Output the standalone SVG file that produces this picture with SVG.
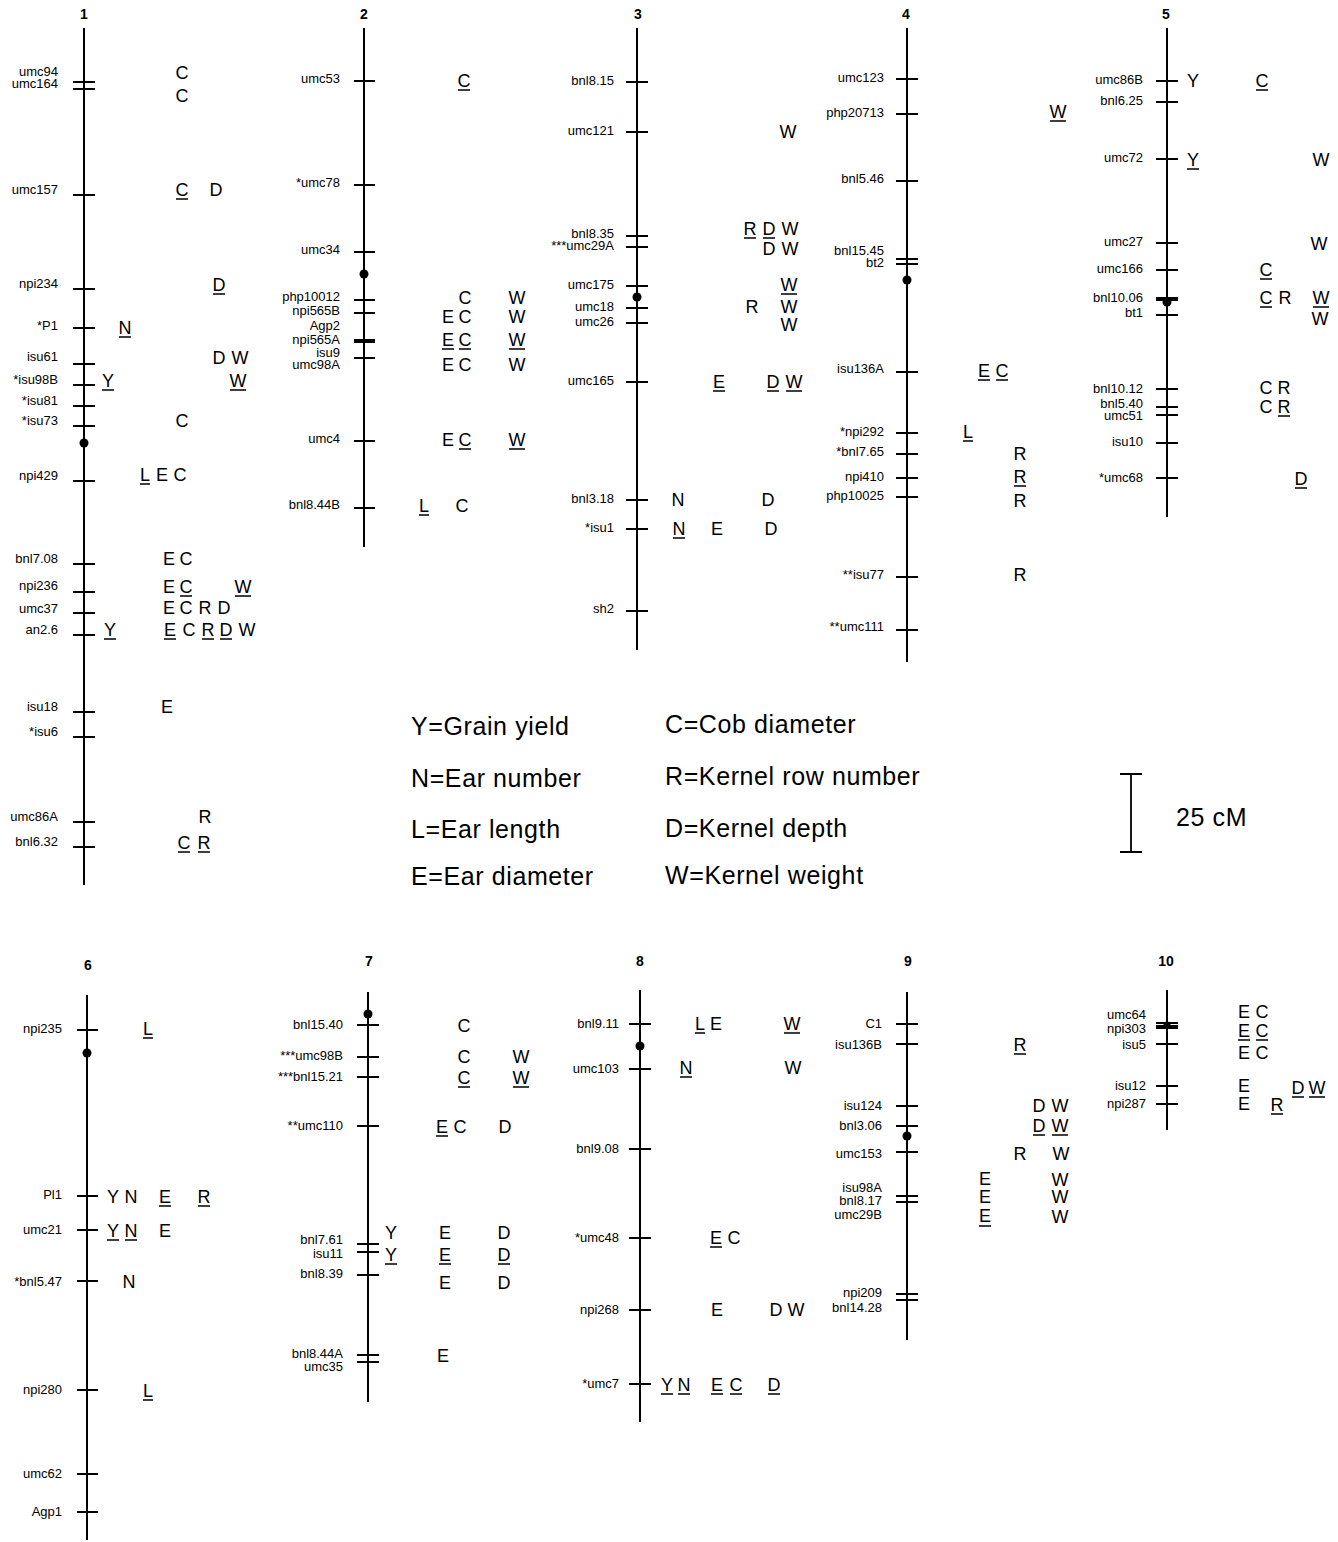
<svg xmlns="http://www.w3.org/2000/svg" width="1338" height="1542" viewBox="0 0 1338 1542">
<style>
.bg{fill:#fff}
.chr{stroke:#000;stroke-width:2;fill:none}
.tk{stroke:#000;stroke-width:1.8;fill:none}
.thk{stroke:#000;stroke-width:4;fill:none}
.ul{stroke:#000;stroke-width:1.3;fill:none}
.dot{fill:#000}
.lb text{font-family:"Liberation Sans",Arial,sans-serif;font-size:13px;text-anchor:end;fill:#000}
.t text{font-family:"Liberation Sans",Arial,sans-serif;font-size:18px;text-anchor:middle;fill:#000}
.ttl{font-family:"Liberation Sans",Arial,sans-serif;font-size:14px;font-weight:bold;text-anchor:middle}
.lg{font-family:"Liberation Sans",Arial,sans-serif;font-size:25px;letter-spacing:0.6px;fill:#000}
</style>
<rect class="bg" x="0" y="0" width="1338" height="1542"/>

<g id="chr1">
<text class="ttl" x="84" y="19">1</text>
<path class="chr" d="M84 28V885"/>
<path class="tk" d="M73 82h22M73 89h22M73 195h22M73 289h22M73 328h22M73 364h22M73 385h22M73 406h22M73 426h22M73 481h22M73 564h22M73 592h22M73 613h22M73 635h22M73 712h22M73 737h22M73 822h22M73 847h22"/>
<circle class="dot" cx="84" cy="443" r="4.5"/>
<g class="lb">
<text x="58" y="76">umc94</text><text x="58" y="88">umc164</text><text x="58" y="194">umc157</text><text x="58" y="288">npi234</text><text x="58" y="330">*P1</text><text x="58" y="361">isu61</text><text x="58" y="384">*isu98B</text><text x="58" y="405">*isu81</text><text x="58" y="425">*isu73</text><text x="58" y="480">npi429</text><text x="58" y="563">bnl7.08</text><text x="58" y="590">npi236</text><text x="58" y="613">umc37</text><text x="58" y="634">an2.6</text><text x="58" y="711">isu18</text><text x="58" y="736">*isu6</text><text x="58" y="821">umc86A</text><text x="58" y="846">bnl6.32</text>
</g>
<g class="t">
<text x="182" y="79">C</text><text x="182" y="102">C</text>
<text x="182" y="196">C</text><text x="216" y="196">D</text>
<text x="219" y="291">D</text>
<text x="125" y="334">N</text>
<text x="219" y="364">D</text><text x="240" y="364">W</text>
<text x="108" y="387">Y</text><text x="238" y="387">W</text>
<text x="182" y="427">C</text>
<text x="145" y="481">L</text><text x="162" y="481">E</text><text x="180" y="481">C</text>
<text x="169" y="565">E</text><text x="186" y="565">C</text>
<text x="169" y="593">E</text><text x="186" y="593">C</text><text x="243" y="593">W</text>
<text x="169" y="614">E</text><text x="186" y="614">C</text><text x="205" y="614">R</text><text x="224" y="614">D</text>
<text x="110" y="636">Y</text><text x="170" y="636">E</text><text x="189" y="636">C</text><text x="208" y="636">R</text><text x="226" y="636">D</text><text x="247" y="636">W</text>
<text x="167" y="713">E</text>
<text x="205" y="823">R</text>
<text x="184" y="849">C</text><text x="204" y="849">R</text>
</g>
<path class="ul" d="M176 199h12M213 294h12M119 337h12M102 390h12M230 390h16M140 484h10M180 596h12M235 596h16M104 639h12M164 639h12M202 639h12M220 639h12M178 852h12M198 852h12"/>
</g>

<g id="chr2">
<text class="ttl" x="364" y="19">2</text>
<path class="chr" d="M364 28V547"/>
<path class="tk" d="M354 81h21M354 185h21M354 252h21M354 300h21M354 313h21M354 358h21M354 441h21M354 508h21"/>
<path class="thk" d="M354 341h21"/>
<circle class="dot" cx="364" cy="274" r="4.5"/>
<g class="lb">
<text x="340" y="83">umc53</text><text x="340" y="187">*umc78</text><text x="340" y="254">umc34</text><text x="340" y="301">php10012</text><text x="340" y="315">npi565B</text><text x="340" y="330">Agp2</text><text x="340" y="344">npi565A</text><text x="340" y="357">isu9</text><text x="340" y="369">umc98A</text><text x="340" y="443">umc4</text><text x="340" y="509">bnl8.44B</text>
</g>
<g class="t">
<text x="464" y="87">C</text>
<text x="465" y="304">C</text><text x="517" y="304">W</text>
<text x="448" y="323">E</text><text x="465" y="323">C</text><text x="517" y="323">W</text>
<text x="448" y="346">E</text><text x="465" y="346">C</text><text x="517" y="346">W</text>
<text x="448" y="371">E</text><text x="465" y="371">C</text><text x="517" y="371">W</text>
<text x="448" y="446">E</text><text x="465" y="446">C</text><text x="517" y="446">W</text>
<text x="424" y="512">L</text><text x="462" y="512">C</text>
</g>
<path class="ul" d="M458 90h12M442 349h12M459 349h12M509 349h16M459 449h12M509 449h16M419 515h10"/>
</g>

<g id="chr3">
<text class="ttl" x="638" y="19">3</text>
<path class="chr" d="M637 28V650"/>
<path class="tk" d="M626 82h22M626 132h22M626 236h22M626 247h22M626 286h22M626 308h22M626 323h22M626 382h22M626 500h22M626 529h22M626 611h22"/>
<circle class="dot" cx="637" cy="297" r="4.5"/>
<g class="lb">
<text x="614" y="85">bnl8.15</text><text x="614" y="135">umc121</text><text x="614" y="238">bnl8.35</text><text x="614" y="250">***umc29A</text><text x="614" y="289">umc175</text><text x="614" y="311">umc18</text><text x="614" y="326">umc26</text><text x="614" y="385">umc165</text><text x="614" y="503">bnl3.18</text><text x="614" y="532">*isu1</text><text x="614" y="613">sh2</text>
</g>
<g class="t">
<text x="788" y="138">W</text>
<text x="750" y="235">R</text><text x="769" y="235">D</text><text x="790" y="235">W</text>
<text x="769" y="255">D</text><text x="790" y="255">W</text>
<text x="789" y="291">W</text>
<text x="752" y="313">R</text><text x="789" y="313">W</text>
<text x="789" y="331">W</text>
<text x="719" y="388">E</text><text x="773" y="388">D</text><text x="794" y="388">W</text>
<text x="678" y="506">N</text><text x="768" y="506">D</text>
<text x="679" y="535">N</text><text x="717" y="535">E</text><text x="771" y="535">D</text>
</g>
<path class="ul" d="M744 238h12M763 238h12M781 294h16M713 391h12M767 391h12M786 391h16M673 538h12"/>
</g>

<g id="chr4">
<text class="ttl" x="906" y="19">4</text>
<path class="chr" d="M907 28V662"/>
<path class="tk" d="M896 79h22M896 114h22M896 181h22M896 259h22M896 264h22M896 372h22M896 433h22M896 454h22M896 478h22M896 497h22M896 577h22M896 630h22"/>
<circle class="dot" cx="907" cy="280" r="4.5"/>
<g class="lb">
<text x="884" y="82">umc123</text><text x="884" y="117">php20713</text><text x="884" y="183">bnl5.46</text><text x="884" y="255">bnl15.45</text><text x="884" y="267">bt2</text><text x="884" y="373">isu136A</text><text x="884" y="436">*npi292</text><text x="884" y="456">*bnl7.65</text><text x="884" y="481">npi410</text><text x="884" y="500">php10025</text><text x="884" y="579">**isu77</text><text x="884" y="631">**umc111</text>
</g>
<g class="t">
<text x="1058" y="118">W</text>
<text x="984" y="377">E</text><text x="1002" y="377">C</text>
<text x="968" y="438">L</text>
<text x="1020" y="460">R</text>
<text x="1020" y="483">R</text>
<text x="1020" y="507">R</text>
<text x="1020" y="581">R</text>
</g>
<path class="ul" d="M1050 121h16M978 380h12M996 380h12M963 441h10M1014 486h12"/>
</g>

<g id="chr5">
<text class="ttl" x="1166" y="19">5</text>
<path class="chr" d="M1167 28V517"/>
<path class="tk" d="M1156 81h22M1156 102h22M1156 159h22M1156 243h22M1156 270h22M1156 315h22M1156 389h22M1156 407h22M1156 415h22M1156 443h22M1156 478h22"/>
<path class="thk" d="M1156 299h22"/>
<circle class="dot" cx="1167" cy="302" r="4.5"/>
<g class="lb">
<text x="1143" y="84">umc86B</text><text x="1143" y="105">bnl6.25</text><text x="1143" y="162">umc72</text><text x="1143" y="246">umc27</text><text x="1143" y="273">umc166</text><text x="1143" y="302">bnl10.06</text><text x="1143" y="317">bt1</text><text x="1143" y="393">bnl10.12</text><text x="1143" y="408">bnl5.40</text><text x="1143" y="420">umc51</text><text x="1143" y="446">isu10</text><text x="1143" y="482">*umc68</text>
</g>
<g class="t">
<text x="1193" y="87">Y</text><text x="1262" y="87">C</text>
<text x="1193" y="166">Y</text><text x="1321" y="166">W</text>
<text x="1319" y="250">W</text>
<text x="1266" y="276">C</text>
<text x="1266" y="304">C</text><text x="1285" y="304">R</text><text x="1321" y="304">W</text>
<text x="1320" y="325">W</text>
<text x="1266" y="394">C</text><text x="1284" y="394">R</text>
<text x="1266" y="413">C</text><text x="1284" y="413">R</text>
<text x="1301" y="485">D</text>
</g>
<path class="ul" d="M1256 90h12M1187 169h12M1260 279h12M1260 307h12M1313 307h16M1278 416h12M1295 488h12"/>
</g>

<g id="legend">
<text class="lg" x="411" y="735">Y=Grain yield</text>
<text class="lg" x="411" y="787">N=Ear number</text>
<text class="lg" x="411" y="838">L=Ear length</text>
<text class="lg" x="411" y="885">E=Ear diameter</text>
<text class="lg" x="665" y="733">C=Cob diameter</text>
<text class="lg" x="665" y="785">R=Kernel row number</text>
<text class="lg" x="665" y="837">D=Kernel depth</text>
<text class="lg" x="665" y="884">W=Kernel weight</text>
</g>
<g id="scale">
<path class="tk" d="M1131 774V852M1120 774h22M1120 852h22"/>
<text class="lg" x="1176" y="826">25 cM</text>
</g>

<g id="chr6">
<text class="ttl" x="88" y="970">6</text>
<path class="chr" d="M87 995V1540"/>
<path class="tk" d="M77 1030h21M77 1196h21M77 1230h21M77 1281h21M77 1390h21M77 1474h21M77 1512h21"/>
<circle class="dot" cx="87" cy="1053" r="4.5"/>
<g class="lb">
<text x="62" y="1033">npi235</text><text x="62" y="1199">Pl1</text><text x="62" y="1234">umc21</text><text x="62" y="1286">*bnl5.47</text><text x="62" y="1394">npi280</text><text x="62" y="1478">umc62</text><text x="62" y="1516">Agp1</text>
</g>
<g class="t">
<text x="148" y="1035">L</text>
<text x="113" y="1203">Y</text><text x="131" y="1203">N</text><text x="165" y="1203">E</text><text x="204" y="1203">R</text>
<text x="113" y="1237">Y</text><text x="131" y="1237">N</text><text x="165" y="1237">E</text>
<text x="129" y="1288">N</text>
<text x="148" y="1397">L</text>
</g>
<path class="ul" d="M143 1038h10M159 1206h12M198 1206h12M107 1240h12M125 1240h12M143 1400h10"/>
</g>

<g id="chr7">
<text class="ttl" x="369" y="966">7</text>
<path class="chr" d="M368 992V1402"/>
<path class="tk" d="M357 1025h22M357 1057h22M357 1077h22M357 1126h22M357 1244h22M357 1252h22M357 1275h22M357 1355h22M357 1362h22"/>
<circle class="dot" cx="368" cy="1014" r="4.5"/>
<g class="lb">
<text x="343" y="1029">bnl15.40</text><text x="343" y="1060">***umc98B</text><text x="343" y="1081">***bnl15.21</text><text x="343" y="1130">**umc110</text><text x="343" y="1244">bnl7.61</text><text x="343" y="1258">isu11</text><text x="343" y="1278">bnl8.39</text><text x="343" y="1358">bnl8.44A</text><text x="343" y="1371">umc35</text>
</g>
<g class="t">
<text x="464" y="1032">C</text>
<text x="464" y="1063">C</text><text x="521" y="1063">W</text>
<text x="464" y="1084">C</text><text x="521" y="1084">W</text>
<text x="442" y="1133">E</text><text x="460" y="1133">C</text><text x="505" y="1133">D</text>
<text x="391" y="1239">Y</text><text x="445" y="1239">E</text><text x="504" y="1239">D</text>
<text x="391" y="1261">Y</text><text x="445" y="1261">E</text><text x="504" y="1261">D</text>
<text x="445" y="1289">E</text><text x="504" y="1289">D</text>
<text x="443" y="1362">E</text>
</g>
<path class="ul" d="M458 1087h12M513 1087h16M436 1136h12M385 1264h12M439 1264h12M498 1264h12"/>
</g>

<g id="chr8">
<text class="ttl" x="640" y="966">8</text>
<path class="chr" d="M640 990V1422"/>
<path class="tk" d="M629 1024h22M629 1069h22M629 1149h22M629 1238h22M629 1310h22M629 1384h22"/>
<circle class="dot" cx="640" cy="1046" r="4.5"/>
<g class="lb">
<text x="619" y="1028">bnl9.11</text><text x="619" y="1073">umc103</text><text x="619" y="1153">bnl9.08</text><text x="619" y="1242">*umc48</text><text x="619" y="1314">npi268</text><text x="619" y="1388">*umc7</text>
</g>
<g class="t">
<text x="700" y="1030">L</text><text x="716" y="1030">E</text><text x="792" y="1030">W</text>
<text x="686" y="1074">N</text><text x="793" y="1074">W</text>
<text x="716" y="1244">E</text><text x="734" y="1244">C</text>
<text x="717" y="1316">E</text><text x="776" y="1316">D</text><text x="796" y="1316">W</text>
<text x="667" y="1391">Y</text><text x="684" y="1391">N</text><text x="717" y="1391">E</text><text x="736" y="1391">C</text><text x="774" y="1391">D</text>
</g>
<path class="ul" d="M695 1033h10M784 1033h16M680 1077h12M710 1247h12M661 1394h12M678 1394h12M711 1394h12M730 1394h12M768 1394h12"/>
</g>

<g id="chr9">
<text class="ttl" x="908" y="966">9</text>
<path class="chr" d="M907 992V1340"/>
<path class="tk" d="M896 1024h22M896 1044h22M896 1106h22M896 1126h22M896 1152h22M896 1196h22M896 1202h22M896 1294h22M896 1300h22"/>
<circle class="dot" cx="907" cy="1136" r="4.5"/>
<g class="lb">
<text x="882" y="1028">C1</text><text x="882" y="1049">isu136B</text><text x="882" y="1110">isu124</text><text x="882" y="1130">bnl3.06</text><text x="882" y="1158">umc153</text><text x="882" y="1192">isu98A</text><text x="882" y="1205">bnl8.17</text><text x="882" y="1219">umc29B</text><text x="882" y="1297">npi209</text><text x="882" y="1312">bnl14.28</text>
</g>
<g class="t">
<text x="1020" y="1051">R</text>
<text x="1039" y="1112">D</text><text x="1060" y="1112">W</text>
<text x="1039" y="1132">D</text><text x="1060" y="1132">W</text>
<text x="1020" y="1160">R</text><text x="1061" y="1160">W</text>
<text x="985" y="1185">E</text><text x="1060" y="1186">W</text>
<text x="985" y="1203">E</text><text x="1060" y="1203">W</text>
<text x="985" y="1222">E</text><text x="1060" y="1223">W</text>
</g>
<path class="ul" d="M1014 1054h12M1033 1135h12M1052 1135h16M979 1226h12"/>
</g>

<g id="chr10">
<text class="ttl" x="1166" y="966">10</text>
<path class="chr" d="M1167 990V1130"/>
<path class="tk" d="M1156 1023h22M1156 1044h22M1156 1086h22M1156 1104h22"/>
<path class="thk" d="M1156 1027h22"/>
<circle class="dot" cx="1167" cy="1025" r="3.5"/>
<g class="lb">
<text x="1146" y="1019">umc64</text><text x="1146" y="1033">npi303</text><text x="1146" y="1049">isu5</text><text x="1146" y="1090">isu12</text><text x="1146" y="1108">npi287</text>
</g>
<g class="t">
<text x="1244" y="1018">E</text><text x="1262" y="1018">C</text>
<text x="1244" y="1037">E</text><text x="1262" y="1037">C</text>
<text x="1244" y="1059">E</text><text x="1262" y="1059">C</text>
<text x="1244" y="1092">E</text>
<text x="1244" y="1110">E</text><text x="1277" y="1111">R</text>
<text x="1298" y="1094">D</text><text x="1317" y="1094">W</text>
</g>
<path class="ul" d="M1238 1040h12M1256 1040h12M1271 1114h12M1292 1097h12M1309 1097h16"/>
</g>
</svg>
